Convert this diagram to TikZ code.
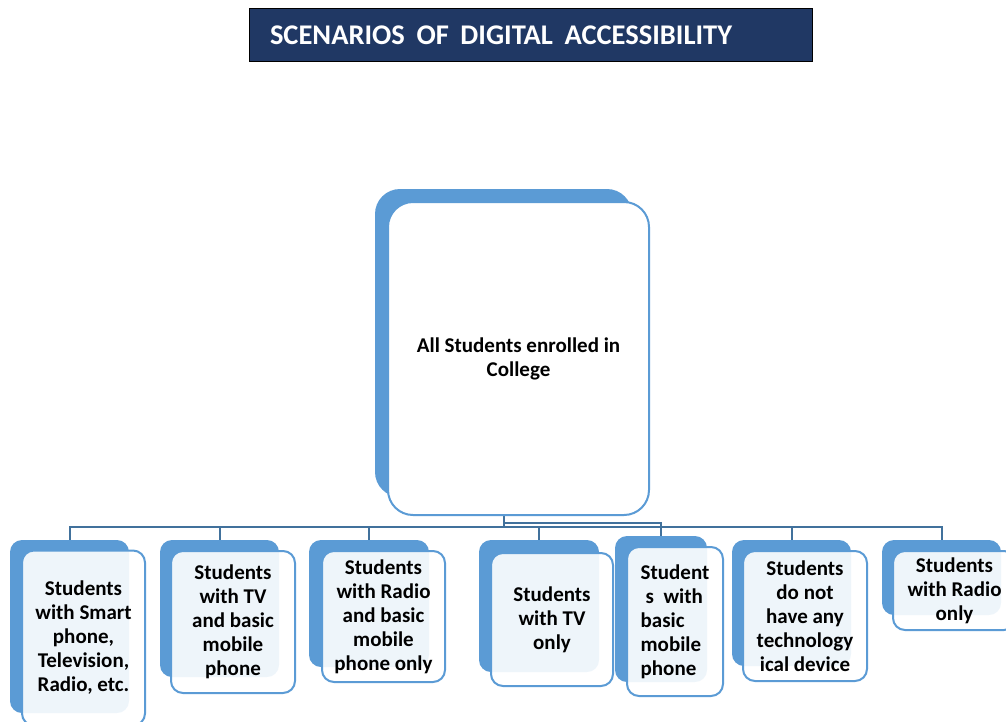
\documentclass[tikz,border=0pt]{standalone}
\usepackage{fontspec}
\setmainfont{Carlito}
\definecolor{shadowblue}{HTML}{5B9BD5}
\definecolor{linkblue}{HTML}{41719C}
\definecolor{titlenavy}{HTML}{203864}
\begin{document}
\begin{tikzpicture}[x=1pt, y=-1pt,
            every node/.style = {shape=rectangle, inner sep=0pt, outer sep=0pt,
                font=\bfseries\fontsize{21}{24}\selectfont},
            back/.style = {rounded corners=12pt, fill=shadowblue},
            front/.style = {rounded corners=12pt, draw=shadowblue, line width=2pt,
                fill=white, fill opacity=0.9, text opacity=1, align=center},
            link/.style = {draw=linkblue, line width=2pt}]

            \useasboundingbox (0,0) rectangle (1006,721);

            \node[fill=titlenavy, draw=black, line width=0.8pt, text=white,
                inner xsep=21pt, text width=521pt, minimum height=53pt, align=left,
                font=\bfseries\fontsize{28.5}{32}\selectfont]
                (title) at (530.5,35) {\hbox to 462pt{SCENARIOS\hfill OF\hfill DIGITAL\hfill ACCESSIBILITY}};

            \node[back, rounded corners=25pt, minimum width=257pt, minimum height=308pt] (sm) at (503.5,343) {};
            \node[back, minimum width=119pt, minimum height=173pt] (s1) at (69.5,626.5) {};
            \node[back, minimum width=119pt, minimum height=137pt] (s2) at (219.5,608.5) {};
            \node[back, minimum width=120pt, minimum height=127pt] (s3) at (369,603.5) {};
            \node[back, minimum width=120pt, minimum height=132pt] (s4) at (539,606) {};
            \node[back, minimum width=92pt, minimum height=146pt] (s5) at (661,609) {};
            \node[back, minimum width=119pt, minimum height=126pt] (s6) at (791.5,603) {};
            \node[back, minimum width=119pt, minimum height=75pt] (s7) at (941.5,577.5) {};

            \coordinate (bus) at (503.5,527);
            \coordinate (bus5) at (503.5,523);
            \draw[link] (sm.south) -- (bus);
            \foreach \i in {1,2,3,4,6,7}
                \draw[link] (bus) -| (s\i.north);
            \draw[link] (bus5) -| (s5.north);

            \node[front, rounded corners=25pt, fill opacity=1, minimum width=261pt, minimum height=313pt]
                (fm) at (518.5,358.5) {All Students enrolled in\\College};
            \node[front, minimum width=123pt, minimum height=175pt] (f1) at (83.5,638)
                {Students\\with Smart\\phone,\\Television,\\Radio, etc.};
            \node[front, minimum width=124pt, minimum height=142pt] (f2) at (233,622)
                {Students\\with TV\\and basic\\mobile\\phone};
            \node[front, minimum width=123pt, minimum height=131pt] (f3) at (383.5,616.5)
                {Students\\with Radio\\and basic\\mobile\\phone only};
            \node[front, minimum width=122pt, minimum height=133pt] (f4) at (552,619.5)
                {Students\\with TV\\only};
            \node[front, align=left, minimum width=96pt, minimum height=149pt] (f5) at (675,621.5)
                {Student\\\hspace{5pt}s\ \ with\\basic\\mobile\\phone};
            \node[front, minimum width=124pt, minimum height=130pt] (f6) at (805,616)
                {Students\\do not\\have any\\technology\\ical device};
            \node[front, minimum width=123pt, minimum height=79pt] (f7) at (954.5,590.5)
                {Students\\with Radio\\only};

        \end{tikzpicture}
\end{document}
